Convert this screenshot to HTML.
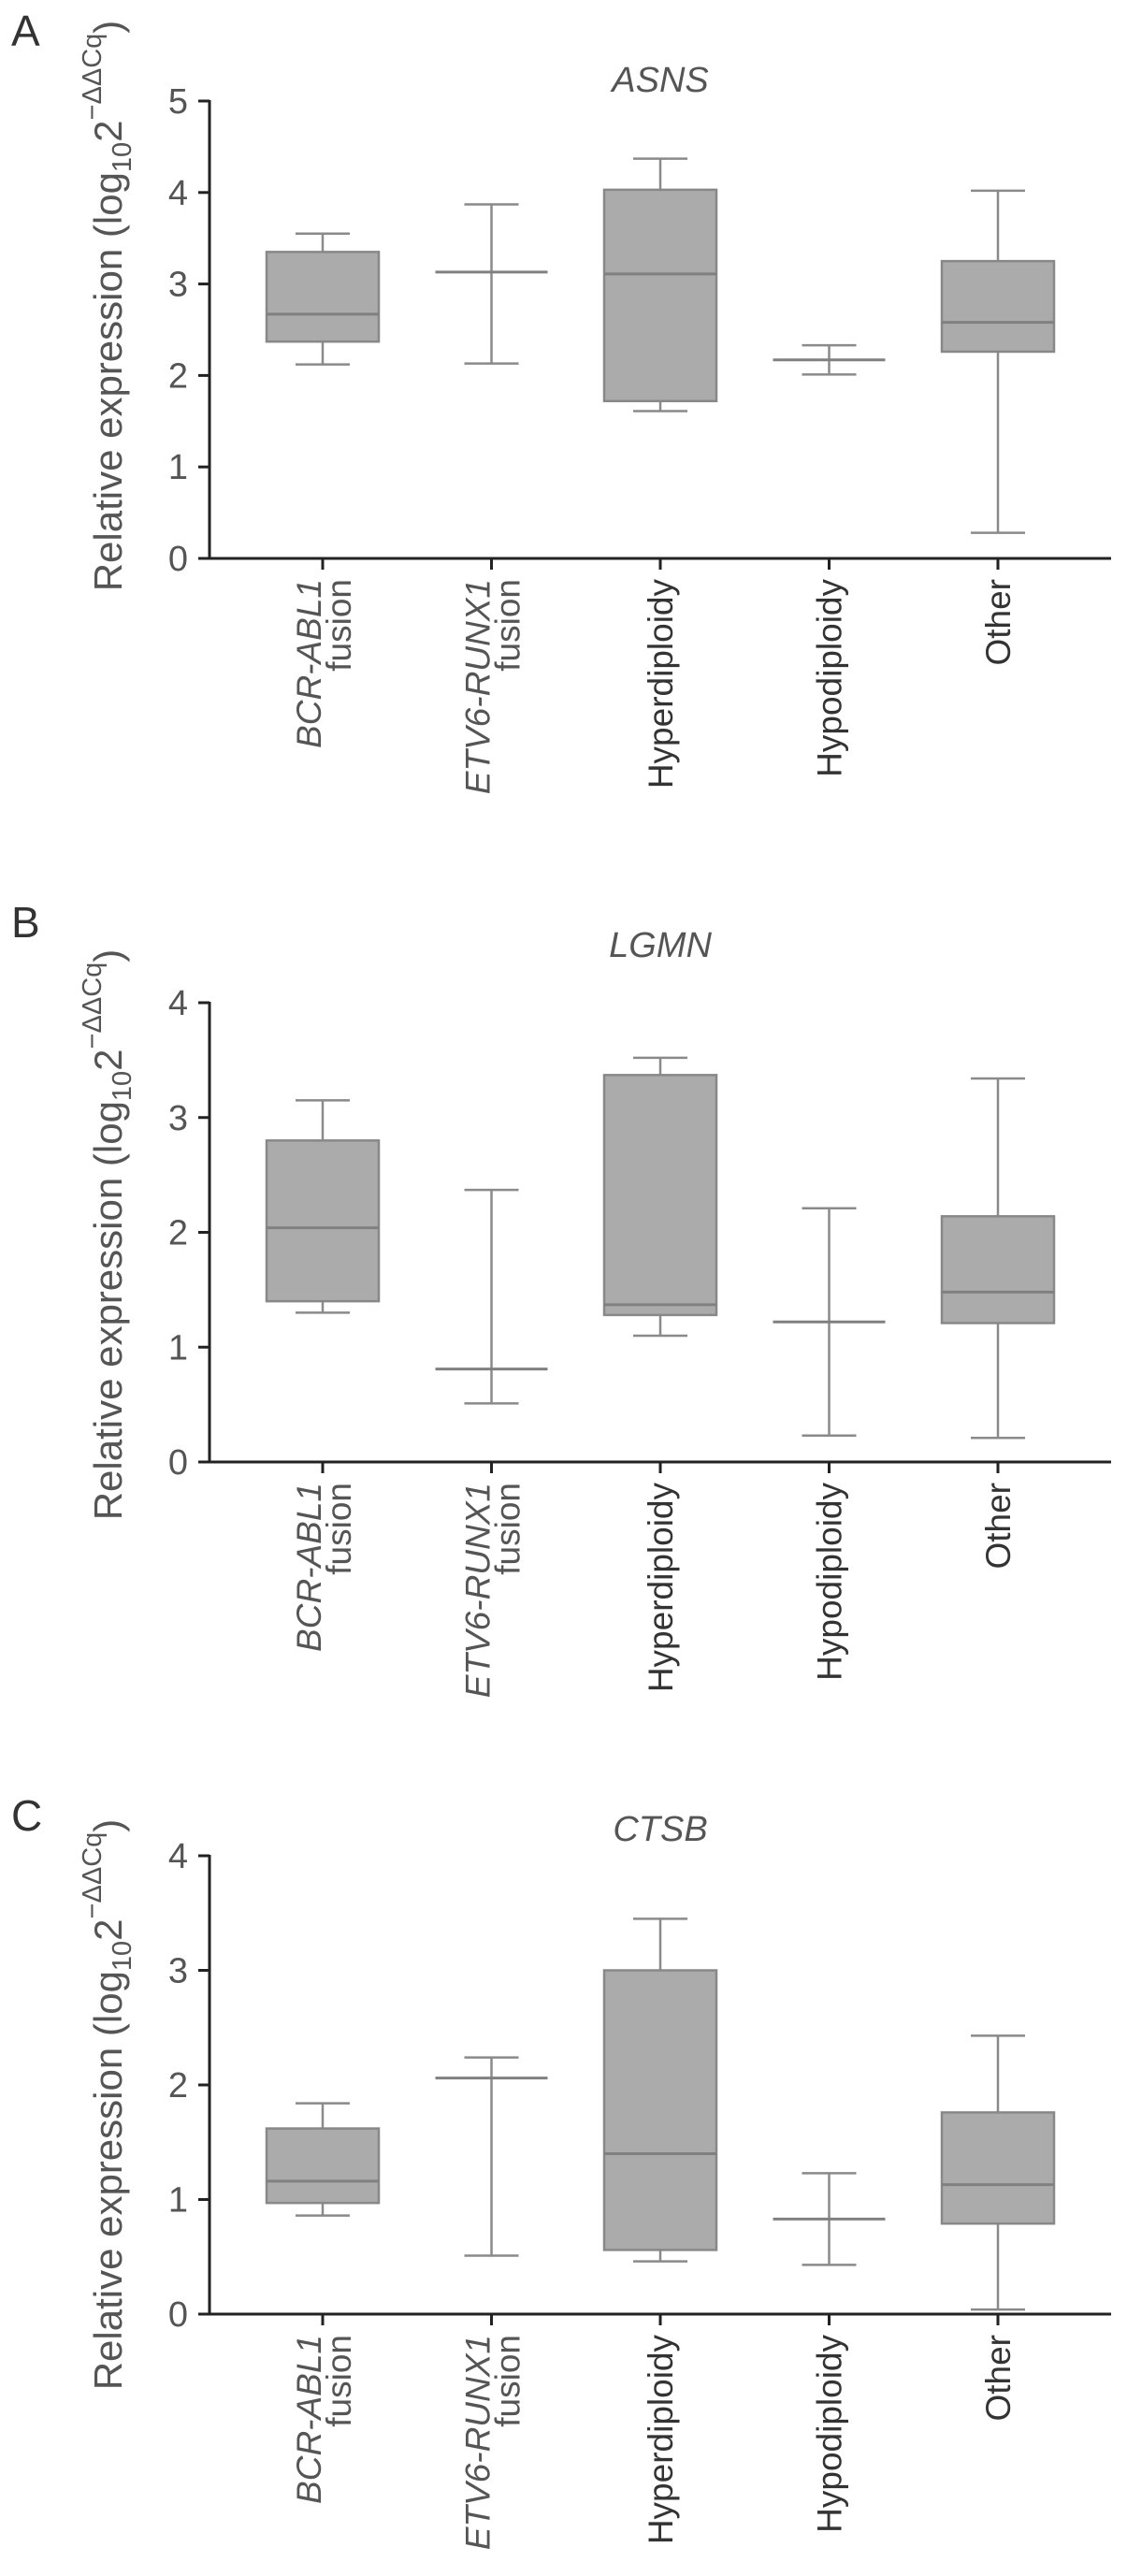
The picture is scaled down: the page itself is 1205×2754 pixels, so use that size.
<!DOCTYPE html>
<html><head><meta charset="utf-8"><style>
html,body{margin:0;padding:0;background:#fff;}
svg{display:block;font-family:"Liberation Sans",Arial,sans-serif;}
</style></head><body>
<svg id="fig" width="1205" height="2754" viewBox="0 0 1205 2754" xmlns="http://www.w3.org/2000/svg"></svg>
<script>
const categories = ["BCR-ABL1 fusion","ETV6-RUNX1 fusion","Hyperdiploidy","Hypodiploidy","Other"];
// [min, q1, median, q3, max]; null q1/q3 = no box
const asnsValues = [[2.12,2.37,2.67,3.35,3.55],[2.13,null,3.13,null,3.87],[1.61,1.72,3.11,4.03,4.37],[2.01,null,2.17,null,2.33],[0.28,2.26,2.58,3.25,4.02]];
const lgmnValues = [[1.30,1.40,2.04,2.80,3.15],[0.51,null,0.81,null,2.37],[1.10,1.28,1.37,3.37,3.52],[0.23,null,1.22,null,2.21],[0.21,1.21,1.48,2.14,3.34]];
const ctsbValues = [[0.86,0.97,1.16,1.62,1.84],[0.51,null,2.06,null,2.24],[0.46,0.56,1.40,3.00,3.45],[0.43,null,0.83,null,1.23],[0.04,0.79,1.13,1.76,2.43]];
const asnsTicks = [0,1,2,3,4,5];
const lgmnTicks = [0,1,2,3,4];
const ctsbTicks = [0,1,2,3,4];

const NS="http://www.w3.org/2000/svg";
const svg=document.getElementById('fig');
function mk(tag,attrs,parent,text){const e=document.createElementNS(NS,tag);for(const k in attrs)e.setAttribute(k,attrs[k]);if(text!==undefined)e.textContent=text;(parent||svg).appendChild(e);return e;}

const panels=[
 {letter:"A",title:"ASNS",vals:asnsValues,ticks:asnsTicks,yTop:108,y0:597,labelY:32,titleY:85,ytitleC:327,key:"asns"},
 {letter:"B",title:"LGMN",vals:lgmnValues,ticks:lgmnTicks,yTop:1072,y0:1563,labelY:985,titleY:1010,ytitleC:1320,key:"lgmn"},
 {letter:"C",title:"CTSB",vals:ctsbValues,ticks:ctsbTicks,yTop:1984,y0:2474,labelY:1940,titleY:1955,ytitleC:2250,key:"ctsb"}
];
const axX=224, axRight=1188, cx0=345, dx=180.5, boxW=120, capW=58;

panels.forEach(p=>{
 const g=mk('g',{});
 
 
 const maxT=p.ticks[p.ticks.length-1];
 const y=v=>p.y0-(v/maxT)*(p.y0-p.yTop);
 const x=i=>cx0+i*dx;
 const lab=mk('text',{x:12,y:p.labelY+17,'font-size':46,fill:'#333'},g,p.letter);
 
 
 const t=mk('text',{x:(axX+axRight)/2,y:p.titleY+13,'font-size':38,'font-style':'italic','text-anchor':'middle',fill:'#555'},g,p.title);
 
 
 const yt=mk('text',{transform:`translate(130,${p.ytitleC}) rotate(-90)`,'font-size':42,'text-anchor':'middle',fill:'#555'},g);
 
 
 mk('tspan',{},yt,'Relative expression (log');
 mk('tspan',{dy:10,'font-size':29},yt,'10');
 mk('tspan',{dy:-10},yt,'2');
 mk('tspan',{dy:-22,'font-size':29},yt,'\u2212\u0394\u0394Cq');
 mk('tspan',{dy:22},yt,')');
 const ya=mk('line',{x1:axX,y1:p.yTop-1,x2:axX,y2:p.y0+1.5,stroke:'#222','stroke-width':3},g);
 
 
 const xa=mk('line',{x1:axX-1.5,y1:p.y0,x2:axRight,y2:p.y0,stroke:'#222','stroke-width':3},g);
 
 
 p.ticks.forEach(tv=>{
  mk('line',{x1:axX-12,y1:y(tv),x2:axX,y2:y(tv),stroke:'#222','stroke-width':3},g);
  const tl=mk('text',{x:201,y:y(tv)+13,'font-size':38,'text-anchor':'end',fill:'#555'},g,String(tv));
  
  
 });
 categories.forEach((c,i)=>{
  mk('line',{x1:x(i),y1:p.y0,x2:x(i),y2:p.y0+12,stroke:'#222','stroke-width':3},g);
  const parts=c.split(' ');
  if(parts.length===2){
   const a=mk('text',{transform:`translate(${x(i)-2},${p.y0+22}) rotate(-90)`,'font-size':37,'text-anchor':'end','font-style':'italic',fill:'#555'},g,parts[0]);
   
   
   const b=mk('text',{transform:`translate(${x(i)+30},${p.y0+22}) rotate(-90)`,'font-size':37,'text-anchor':'end',fill:'#555'},g,parts[1]);
   
   
  } else {
   const a=mk('text',{transform:`translate(${x(i)+13},${p.y0+22}) rotate(-90)`,'font-size':37,'text-anchor':'end',fill:'#333'},g,c);
   
   
  }
  const v=p.vals[i];
  const bg=mk('g',{},g);
  
  
  const st={stroke:'#8a8a8a','stroke-width':2.5};
  mk('line',Object.assign({x1:x(i),y1:y(v[0]),x2:x(i),y2:y(v[4])},st),bg);
  mk('line',Object.assign({x1:x(i)-capW/2,y1:y(v[0]),x2:x(i)+capW/2,y2:y(v[0])},st),bg);
  mk('line',Object.assign({x1:x(i)-capW/2,y1:y(v[4]),x2:x(i)+capW/2,y2:y(v[4])},st),bg);
  if(v[1]!==null){
   mk('rect',{x:x(i)-boxW/2,y:y(v[3]),width:boxW,height:y(v[1])-y(v[3]),fill:'#ababab',stroke:'#888','stroke-width':2.5},bg);
  }
  mk('line',{x1:x(i)-boxW/2,y1:y(v[2]),x2:x(i)+boxW/2,y2:y(v[2]),stroke:'#808080','stroke-width':3},bg);
 });
});
</script>
</body></html>
